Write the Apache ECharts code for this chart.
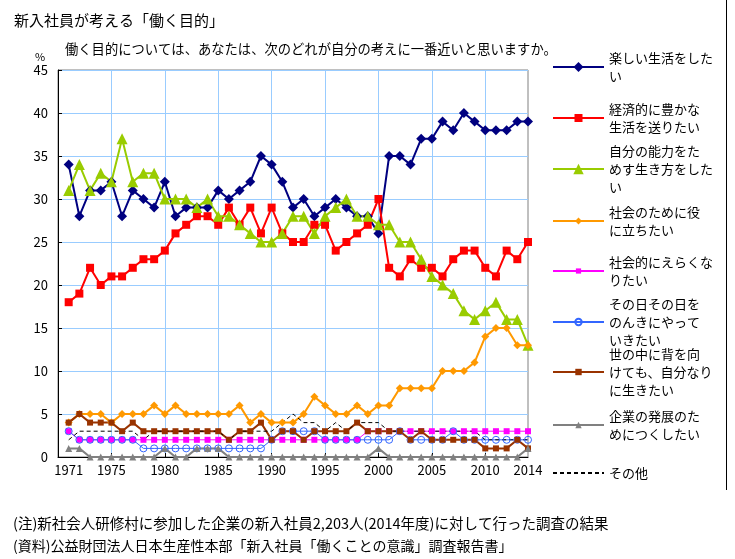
<!DOCTYPE html>
<html><head><meta charset="utf-8">
<script src="https://cdn.jsdelivr.net/npm/echarts@6/dist/echarts.min.js"></script>
<style>html,body{margin:0;padding:0;background:#fff}#c{width:735px;height:559px}</style>
</head><body><div id="c"></div>
<script>
// ---------- data ----------
const years = [1971,1972,1973,1974,1975,1976,1977,1978,1979,1980,
               1981,1982,1983,1984,1985,1986,1987,1988,1989,1990,
               1991,1992,1993,1994,1995,1996,1997,1998,1999,2000,
               2001,2002,2003,2004,2005,2006,2007,2008,2009,2010,
               2011,2012,2013,2014];
const axisStartYear = 1970; // empty slot left of the first survey year
const tickLabels = ['1971','1975','1980','1985','1990','1995','2000','2005','2010','2014'];
const gridYears = [1975,1980,1985,1990,1995,2000,2005,2010];

const seriesNames = ['楽しい生活をしたい','経済的に豊かな生活を送りたい','自分の能力をためす生き方をしたい',
  '社会のために役に立ちたい','社会的にえらくなりたい','その日その日をのんきにやっていきたい',
  '世の中に背を向けても、自分なりに生きたい','企業の発展のためにつくしたい','その他'];
const legendLabels = ['楽しい生活をした\nい','経済的に豊かな\n生活を送りたい','自分の能力をた\nめす生き方をした\nい',
  '社会のために役\nに立ちたい','社会的にえらくな\nりたい','その日その日を\nのんきにやって\nいきたい',
  '世の中に背を向\nけても、自分なり\nに生きたい','企業の発展のた\nめにつくしたい','その他'];

const enjoyLife = [34,28,31,31,32,28,31,30,29,32, 28,29,29,29,31,30,31,32,35,34, 32,29,30,28,29,30,29,28,28,26, 35,35,34,37,37,39,38,40,39,38, 38,38,39,39];
const richLife  = [18,19,22,20,21,21,22,23,23,24, 26,27,28,28,27,29,27,29,26,29, 26,25,25,27,27,24,25,26,27,30, 22,21,23,22,22,21,23,24,24,22, 21,24,23,25];
const testAbility = [31,34,31,33,32,37,32,33,33,30, 30,30,29,30,28,28,27,26,25,25, 26,28,28,26,28,29,30,28,28,27, 27,25,25,23,21,20,19,17,16,17, 18,16,16,13];
const helpSociety = [4,5,5,5,4,5,5,5,6,5, 6,5,5,5,5,5,6,4,5,4, 4,4,5,7,6,5,5,6,5,6, 6,8,8,8,8,10,10,10,11,14, 15,15,13,13];
const getAhead = [3,2,2,2,2,2,2,2,2,2, 2,2,2,2,2,2,2,2,2,2, 2,2,2,2,2,2,2,2,3,3, 3,3,3,3,3,3,3,3,3,3, 3,3,3,3];
const easyGoing = [3,2,2,2,2,2,2,1,1,1, 1,1,1,1,1,1,1,1,1,2, 3,3,3,3,2,2,2,2,2,2, 2,3,2,2,2,2,3,2,2,2, 2,2,2,2];
const ownWay = [4,5,4,4,4,3,4,3,3,3, 3,3,3,3,3,2,3,3,4,2, 3,3,2,3,3,3,3,4,3,3, 3,3,2,3,2,2,2,2,2,1, 1,1,2,1];
const forCompany = [1,1,0,0,0,0,0,0,0,1, 0,0,1,1,1,0,0,0,0,0, 0,0,0,0,0,0,0,0,0,1, 0,0,0,0,0,0,0,0,0,0, 0,0,0,1];
const others = [2,3,3,3,3,3,3,2,3,3, 3,3,3,3,3,2,3,3,3,3, 4,5,4,4,3,4,3,4,4,4, 3,3,3,3,3,3,3,3,3,2, 2,2,2,2];
const seriesValues = [enjoyLife, richLife, testAbility, helpSociety, getAhead, easyGoing, ownWay, forCompany, others];

// ---------- styling ----------
const FONT = "'Noto Sans CJK JP', 'Noto Sans', sans-serif";
const styles = [
  {color:'#000080', symbol:'diamond',  size:10, width:2, legendY:67,  legendH:12.5},
  {color:'#FF0000', symbol:'rect',     size:8,  width:2, legendY:118, legendH:10},
  {color:'#99CC00', symbol:'triangle', size:11, width:2, legendY:169, legendH:13},
  {color:'#FF9900', symbol:'diamond',  size:8,  width:2, legendY:221, legendH:8.5},
  {color:'#FF00FF', symbol:'rect',     size:6,  width:1, legendY:271, legendH:6.5},
  {color:'#3366FF', symbol:'circle',   size:7,  width:1, legendY:322, legendH:8, hollow:true},
  {color:'#993300', symbol:'rect',     size:6,  width:2, legendY:372, legendH:8},
  {color:'#808080', symbol:'triangle', size:7,  width:2, legendY:425, legendH:8},
  {color:'#000000', symbol:'none',     size:0,  width:1, legendY:473, legendH:14, dashed:true}
];

const categories = [String(axisStartYear)].concat(years.map(String));
const isGridYear = (i, v) => gridYears.indexOf(+v) >= 0;

const chart = echarts.init(document.getElementById('c'), null, {renderer:'canvas'});
chart.setOption({
  animation:false,
  backgroundColor:'#fff',
  title:[
    {text:'新入社員が考える「働く目的」', left:9, top:8, textStyle:{fontFamily:FONT, fontSize:15, fontWeight:'normal', color:'#000'}},
    {text:'働く目的については、あなたは、次のどれが自分の考えに一番近いと思いますか。', left:60, top:37, textStyle:{fontFamily:FONT, fontSize:13.3, fontWeight:'normal', color:'#000'}},
    {text:'(注)新社会人研修村に参加した企業の新入社員2,203人(2014年度)に対して行った調査の結果', left:8, top:511, textStyle:{fontFamily:FONT, fontSize:14.5, fontWeight:'normal', color:'#000'}},
    {text:'(資料)公益財団法人日本生産性本部「新入社員「働くことの意識」調査報告書」', left:8, top:534, textStyle:{fontFamily:FONT, fontSize:14, fontWeight:'normal', color:'#000'}}
  ],
  graphic:[
    {type:'text', left:35, top:51, style:{text:'%', font:'11px '+FONT, fill:'#000'}},
    {type:'line', shape:{x1:726.5, y1:0, x2:726.5, y2:490}, style:{stroke:'#000', lineWidth:1}}
  ],
  grid:{left:58, right:207, top:70, bottom:102, show:true, borderColor:'#808080', borderWidth:1},
  xAxis:{
    type:'category', data:categories, boundaryGap:false,
    axisLine:{lineStyle:{color:'#000', width:1}},
    axisTick:{show:true, inside:true, length:4, interval:isGridYear, lineStyle:{color:'#000'}},
    axisLabel:{interval:(i,v)=>tickLabels.indexOf(String(v))>=0, color:'#000', fontSize:13, margin:7, fontFamily:FONT},
    splitLine:{show:true, interval:isGridYear, lineStyle:{color:'#99CCFF', width:1}}
  },
  yAxis:{
    type:'value', min:0, max:45, interval:5,
    axisLine:{show:true, lineStyle:{color:'#000', width:1}},
    axisTick:{show:true, inside:true, length:4, lineStyle:{color:'#000'}},
    axisLabel:{color:'#000', fontSize:13, margin:10, fontFamily:FONT},
    splitLine:{show:true, lineStyle:{color:'#99CCFF', width:1}}
  },
  legend: styles.map((s,i)=>{
    const n = legendLabels[i].split('\n').length;
    const leg = {
      data:[seriesNames[i]], left:552, top:s.legendY - (2*n-1)*9, orient:'vertical', padding:0, itemGap:0,
      itemWidth:51, itemHeight:s.legendH, selectedMode:false,
      formatter:()=>legendLabels[i],
      textStyle:{fontFamily:FONT, fontSize:13, color:'#000', lineHeight:18, padding:[(n-1)*18,0,0,0]}
    };
    if (s.symbol === 'none') leg.itemStyle = {color:'rgba(0,0,0,0)', borderWidth:0, opacity:0};
    return leg;
  }),
  series: seriesValues.map((vals,i)=>{
    const s = styles[i];
    return {
      name:seriesNames[i], type:'line', data:[null].concat(vals),
      color:s.color,
      symbol:s.symbol, symbolSize:s.size, showSymbol:s.symbol!=='none', showAllSymbol:true,
      lineStyle:{color:s.color, width:s.width, type:s.dashed?[4,3]:'solid'},
      itemStyle: s.hollow ? {color:'rgba(255,255,255,0)', borderColor:s.color, borderWidth:1} : {color:s.color},
      emphasis:{disabled:true}, silent:true, z: 2
    };
  })
});
</script></body></html>
